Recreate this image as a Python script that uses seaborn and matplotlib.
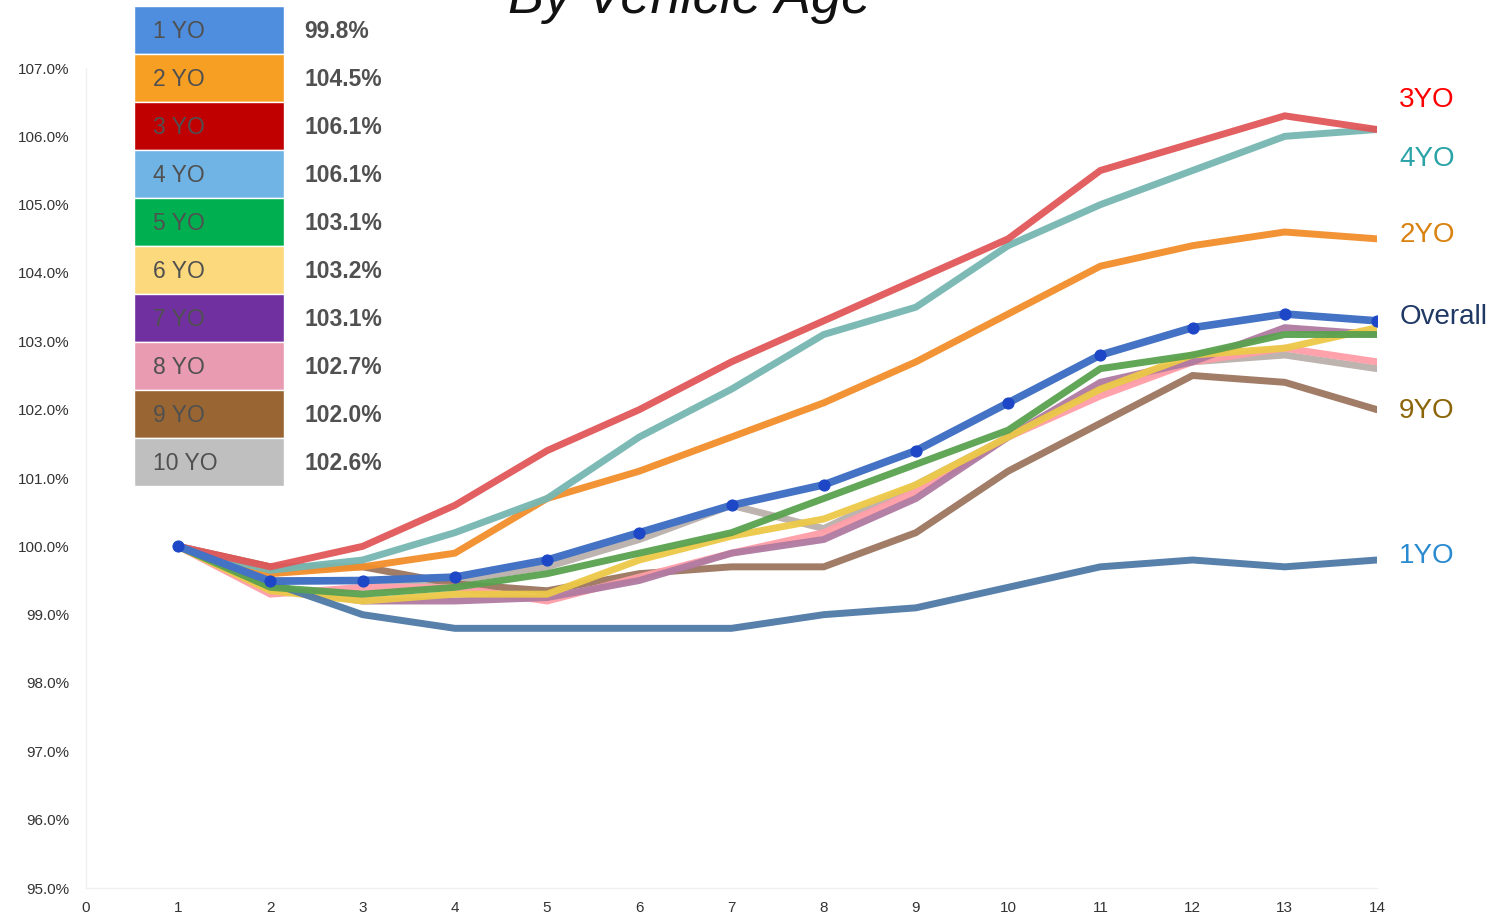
import numpy as np
import pandas as pd
import matplotlib
matplotlib.use("Agg")
import matplotlib.pyplot as plt
import seaborn as sns

# Months since reference point (x) and index values (% of month 1) per vehicle age
months = list(range(1, 15))

yo1 = [100.0, 99.47, 99.0, 98.8, 98.8, 98.8, 98.8, 99.0, 99.1, 99.4, 99.7, 99.8, 99.7, 99.8]
yo2 = [100.0, 99.6, 99.7, 99.9, 100.7, 101.1, 101.6, 102.1, 102.7, 103.4, 104.1, 104.4, 104.6, 104.5]
yo3 = [100.0, 99.7, 100.0, 100.6, 101.4, 102.0, 102.7, 103.3, 103.9, 104.5, 105.5, 105.9, 106.3, 106.1]
yo4 = [100.0, 99.65, 99.8, 100.2, 100.7, 101.6, 102.3, 103.1, 103.5, 104.4, 105.0, 105.5, 106.0, 106.1]
yo5 = [100.0, 99.4, 99.3, 99.4, 99.6, 99.9, 100.2, 100.7, 101.2, 101.7, 102.6, 102.8, 103.1, 103.1]
yo6 = [100.0, 99.35, 99.2, 99.3, 99.3, 99.8, 100.15, 100.4, 100.9, 101.6, 102.3, 102.8, 102.9, 103.2]
yo7 = [100.0, 99.4, 99.2, 99.2, 99.25, 99.5, 99.9, 100.1, 100.7, 101.6, 102.4, 102.7, 103.2, 103.1]
yo8 = [100.0, 99.3, 99.4, 99.4, 99.2, 99.55, 99.9, 100.2, 100.8, 101.6, 102.2, 102.7, 102.9, 102.7]
yo9 = [100.0, 99.7, 99.7, 99.45, 99.35, 99.6, 99.7, 99.7, 100.2, 101.1, 101.8, 102.5, 102.4, 102.0]
yo10 = [100.0, 99.5, 99.5, 99.5, 99.7, 100.1, 100.6, 100.26, 100.9, 101.6, 102.3, 102.7, 102.8, 102.6]
overall = [100.0, 99.49, 99.5, 99.55, 99.8, 100.2, 100.6, 100.9, 101.4, 102.1, 102.8, 103.2, 103.4, 103.3]

series_names = ["1YO", "2YO", "3YO", "4YO", "5YO", "6YO", "7YO", "8YO", "9YO", "10YO"]
series_values = [yo1, yo2, yo3, yo4, yo5, yo6, yo7, yo8, yo9, yo10]

legend_labels = ["1 YO", "2 YO", "3 YO", "4 YO", "5 YO", "6 YO", "7 YO", "8 YO", "9 YO", "10 YO"]
y_ticks = [95, 96, 97, 98, 99, 100, 101, 102, 103, 104, 105, 106, 107]
x_ticks = list(range(0, 15))

line_colors = {
    "1YO": "#4E79A7", "2YO": "#F28E2B", "3YO": "#E15759", "4YO": "#76B7B2",
    "5YO": "#59A14F", "6YO": "#EDC948", "7YO": "#B07AA1", "8YO": "#FF9DA7",
    "9YO": "#9C755F", "10YO": "#BAB0AC",
}
legend_colors = ["#4F8EDE", "#F79F23", "#C00000", "#70B4E6", "#00B050",
                 "#FCD97D", "#7030A0", "#E99BB2", "#996633", "#BFBFBF"]

# Long-form table for seaborn
frames = [pd.DataFrame({"month": months, "index": vals, "age": name})
          for name, vals in zip(series_names, series_values)]
df = pd.concat(frames, ignore_index=True)
df_overall = pd.DataFrame({"month": months, "index": overall})

sns.set_theme(style="white")
plt.rcParams["font.family"] = ["Liberation Sans", "DejaVu Sans"]

W, H = 1496, 916
fig = plt.figure(figsize=(W / 100, H / 100), dpi=100)
ax = fig.add_axes([86 / W, 1 - 888 / H, (1377 - 86) / W, (888 - 68) / H])

draw_order = ["10YO", "9YO", "8YO", "7YO", "6YO", "1YO", "5YO", "2YO", "4YO", "3YO"]
for name in draw_order:
    sub = df[df["age"] == name]
    sns.lineplot(data=sub, x="month", y="index", ax=ax, color=line_colors[name],
                 linewidth=5, alpha=0.95, solid_joinstyle="miter", legend=False)

sns.lineplot(data=df_overall, x="month", y="index", ax=ax, color="#4472C4",
             linewidth=5.5, marker="o", markersize=8, markerfacecolor="#1D47C6",
             markeredgecolor="#1D47C6", legend=False, zorder=5)

ax.set_xlim(0, 14)
ax.set_ylim(95, 107)
ax.set_xticks(x_ticks)
ax.set_yticks(y_ticks)
ax.set_yticklabels([f"{v:.1f}%" for v in y_ticks], fontsize=11, color="#333333")
ax.set_xticklabels([str(v) for v in x_ticks], fontsize=11, color="#333333")
ax.tick_params(axis="x", length=0, pad=9)
ax.tick_params(axis="y", length=0, pad=12)
ax.set_xlabel("")
ax.set_ylabel("")
for side in ["top", "right"]:
    ax.spines[side].set_visible(False)
for side in ["left", "bottom"]:
    ax.spines[side].set_color("#F0F0F0")
    ax.spines[side].set_linewidth(1)
ax.grid(False)

# End-of-line labels
end_labels = [("3YO", yo3[-1], "#FF0000", 21), ("4YO", yo4[-1], "#2AA3A8", -21),
              ("2YO", yo2[-1], "#D9820F", 3), ("Overall", overall[-1], "#1F3864", 3),
              ("9YO", yo9[-1], "#8B6508", -1), ("1YO", yo1[-1], "#2B8BD0", 3)]
for text, val, col, dy in end_labels:
    ax.annotate(text, xy=(14, val), xytext=(16, dy), textcoords="offset points",
                fontsize=20, color=col, va="center", ha="left", annotation_clip=False)

# Colour key with the final value of each series
lax = fig.add_axes([134 / W, 1 - 486 / H, 266 / W, 480 / H])
lax.barh(range(len(legend_labels)), [1] * len(legend_labels), height=1.0,
         color=legend_colors, left=0)
lax.set_xlim(0, 266 / 150)
lax.set_ylim(len(legend_labels) - 0.5, -0.5)
lax.axis("off")
for i, (lab, vals) in enumerate(zip(legend_labels, series_values)):
    lax.text(19 / 150, i + 0.04, lab, fontsize=16.5, color="#505050", va="center", ha="left")
    lax.text(170 / 150, i + 0.04, f"{vals[-1]:.1f}%", fontsize=16.5, color="#505050",
             fontweight="bold", va="center", ha="left")

fig.text(690 / W, 1 - 13 / H, "By Vehicle Age", fontsize=39, style="italic",
         ha="center", va="baseline", color="#111111")

fig.savefig("out.png", dpi=100)
